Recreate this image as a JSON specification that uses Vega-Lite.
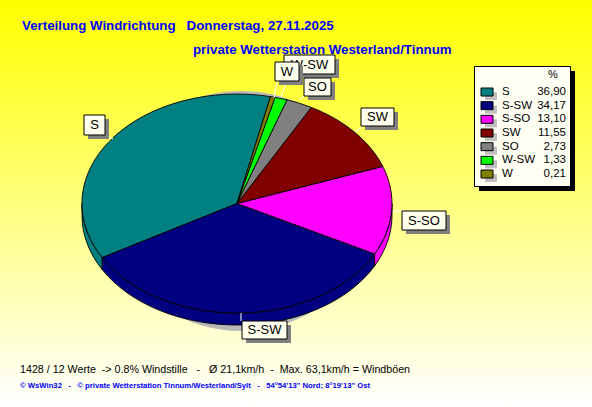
{
"$schema":"https://vega.github.io/schema/vega-lite/v6.json",
"width":592,"height":407,"padding":0,
"autosize":{"type":"fit","contains":"padding"},
"background":"#ffffff",
"view":{"stroke":null},
"config":{"text":{"font":"Liberation Sans"}},
"datasets":{"slices":[
{"direction":"S","pct":36.90,"pctLabel":"36,90"},
{"direction":"S-SW","pct":34.17,"pctLabel":"34,17"},
{"direction":"S-SO","pct":13.10,"pctLabel":"13,10"},
{"direction":"SW","pct":11.55,"pctLabel":"11,55"},
{"direction":"SO","pct":2.73,"pctLabel":"2,73"},
{"direction":"W-SW","pct":1.33,"pctLabel":"1,33"},
{"direction":"W","pct":0.21,"pctLabel":"0,21"}
]},
"data":{"name":"slices"},
"layer":[
{
"encoding":{
"x":{"datum":237,"type":"quantitative","scale":{"domain":[0,592],"nice":false,"zero":false},"axis":null},
"y":{"datum":203.5,"type":"quantitative","scale":{"domain":[407,0],"nice":false,"zero":false},"axis":null}
},
"resolve":{"scale":{"shape":"independent"}},
"layer":[
{"data":{"values":[{"a":1}]},
"mark":{"type":"rect","color":{"gradient":"linear","x1":0,"y1":0,"x2":0,"y2":1,"stops":[{"offset":0,"color":"#ffff00"},{"offset":1,"color":"#ffffff"}]}},
"encoding":{"x":{"datum":0,"type":"quantitative"},"x2":{"datum":592},"y":{"datum":0,"type":"quantitative"},"y2":{"datum":407}}},
{"data":{"values":[{"a":1}]},
"mark":{"type":"point","filled":true,"opacity":1,"size":4,"color":"#b8b8b8","shape":"M-126,7.5A130,120 0 1 1 134,7.5A130,120 0 1 1 -126,7.5Z"}},
{"transform":[{"filter":"datum.direction==='S'||datum.direction==='S-SW'||datum.direction==='S-SO'"}],
"mark":{"type":"point","filled":true,"opacity":1,"size":4,"stroke":"#000000","strokeWidth":0.9},
"encoding":{
"color":{"field":"direction","type":"nominal","legend":null,"scale":{"domain":["S","S-SW","S-SO","SW","SO","W-SW","W"],"range":["#008080","#000080","#ff00ff","#800000","#808080","#00ff00","#808000"]}},
"shape":{"field":"direction","type":"nominal","legend":null,"scale":{"domain":["S","S-SW","S-SO"],"range":[
"M-134.8,54.1A155,109.5 0 0 1 -155,0L-155,12A155,109.5 0 0 0 -134.8,66.1Z",
"M137.6,50.4A155,109.5 0 0 1 -134.8,54.1L-134.8,66.1A155,109.5 0 0 0 137.6,62.4Z",
"M155,0A155,109.5 0 0 1 137.6,50.4L137.6,62.4A155,109.5 0 0 0 155,12Z"]}}}},
{"mark":{"type":"point","filled":true,"opacity":1,"size":4,"stroke":"#000000","strokeWidth":0.9},
"encoding":{
"color":{"field":"direction","type":"nominal","legend":null,"scale":{"domain":["S","S-SW","S-SO","SW","SO","W-SW","W"],"range":["#008080","#000080","#ff00ff","#800000","#808080","#00ff00","#808000"]}},
"shape":{"field":"direction","type":"nominal","legend":null,"scale":{"domain":["S","S-SW","S-SO","SW","SO","W-SW","W"],"range":[
"M0,0L-134.8,54.1A155,109.5 0 0 1 33.5,-106.9Z",
"M0,0L137.6,50.4A155,109.5 0 0 1 -134.8,54.1Z",
"M0,0L145.8,-37.1A155,109.5 0 0 1 137.6,50.4Z",
"M0,0L74.3,-96.1A155,109.5 0 0 1 145.8,-37.1Z",
"M0,0L50,-103.7A155,109.5 0 0 1 74.3,-96.1Z",
"M0,0L38,-106.1A155,109.5 0 0 1 50,-103.7Z",
"M0,0L33.5,-106.9A155,109.5 0 0 1 38,-106.1Z"]}}}},
{"mark":{"type":"point","filled":false,"opacity":1,"size":4,"stroke":"#ffffff","strokeWidth":1},
"encoding":{"shape":{"field":"direction","type":"nominal","legend":null,"scale":{"domain":["S","S-SW","S-SO","SW","SO","W-SW","W"],"range":[
"M-129,-67.5L-124,-64.5","M4,109.5L4,117.5","M156,7.5L165,7.5","M118,-71.5L125,-76.5","M67,-107.5L63,-103.5","M50,-122.5L44,-106.5","M40,-121.5L37,-105.5"]}}}},
{"transform":[{"filter":"datum.direction!=='W'"}],
"mark":{"type":"point","filled":true,"opacity":1,"size":4,"color":"#808080","xOffset":4,"yOffset":4},
"encoding":{"shape":{"field":"direction","type":"nominal","legend":null,"scale":{"domain":["S","S-SW","S-SO","SW","SO","W-SW"],"range":[
"M-153,-88.5H-132V-68.5H-153Z","M5,117.5H50V135.5H5Z","M165,7.5H209V26.5H165Z","M124,-95.5H157V-77.5H124Z","M67,-125.5H94V-107.5H67Z","M47,-148.5H98V-129.5H47Z"]}}}},
{"transform":[{"filter":"datum.direction!=='W'"}],
"mark":{"type":"point","filled":true,"opacity":1,"size":4,"color":"#ffffee","stroke":"#000000","strokeWidth":1},
"encoding":{"shape":{"field":"direction","type":"nominal","legend":null,"scale":{"domain":["S","S-SW","S-SO","SW","SO","W-SW"],"range":[
"M-153,-88.5H-132V-68.5H-153Z","M5,117.5H50V135.5H5Z","M165,7.5H209V26.5H165Z","M124,-95.5H157V-77.5H124Z","M67,-125.5H94V-107.5H67Z","M47,-148.5H98V-129.5H47Z"]}}}},
{"transform":[{"filter":"datum.direction==='S'"}],"mark":{"type":"text","fontSize":13,"color":"#000000"},"encoding":{"text":{"field":"direction"},"x":{"datum":94.5,"type":"quantitative"},"y":{"datum":125,"type":"quantitative"}}},
{"transform":[{"filter":"datum.direction==='S-SW'"}],"mark":{"type":"text","fontSize":13,"color":"#000000"},"encoding":{"text":{"field":"direction"},"x":{"datum":264.5,"type":"quantitative"},"y":{"datum":330,"type":"quantitative"}}},
{"transform":[{"filter":"datum.direction==='S-SO'"}],"mark":{"type":"text","fontSize":13,"color":"#000000"},"encoding":{"text":{"field":"direction"},"x":{"datum":424,"type":"quantitative"},"y":{"datum":220.5,"type":"quantitative"}}},
{"transform":[{"filter":"datum.direction==='SW'"}],"mark":{"type":"text","fontSize":13,"color":"#000000"},"encoding":{"text":{"field":"direction"},"x":{"datum":377.5,"type":"quantitative"},"y":{"datum":117,"type":"quantitative"}}},
{"transform":[{"filter":"datum.direction==='SO'"}],"mark":{"type":"text","fontSize":13,"color":"#000000"},"encoding":{"text":{"field":"direction"},"x":{"datum":317.5,"type":"quantitative"},"y":{"datum":87,"type":"quantitative"}}},
{"transform":[{"filter":"datum.direction==='W-SW'"}],"mark":{"type":"text","fontSize":13,"color":"#000000"},"encoding":{"text":{"field":"direction"},"x":{"datum":309.5,"type":"quantitative"},"y":{"datum":64.5,"type":"quantitative"}}},
{"transform":[{"filter":"datum.direction==='W'"}],
"mark":{"type":"point","filled":true,"opacity":1,"size":4,"color":"#808080","xOffset":4,"yOffset":4,"shape":"M38,-141.5H62V-122.5H38Z"}},
{"transform":[{"filter":"datum.direction==='W'"}],
"mark":{"type":"point","filled":true,"opacity":1,"size":4,"color":"#ffffee","stroke":"#000000","strokeWidth":1,"shape":"M38,-141.5H62V-122.5H38Z"}},
{"transform":[{"filter":"datum.direction==='W'"}],"mark":{"type":"text","fontSize":13,"color":"#000000"},"encoding":{"text":{"field":"direction"},"x":{"datum":287,"type":"quantitative"},"y":{"datum":71.5,"type":"quantitative"}}},
{"data":{"values":[{"a":1}]},"mark":{"type":"rect","color":"#000000"},"encoding":{"x":{"datum":479,"type":"quantitative"},"x2":{"datum":575},"y":{"datum":71,"type":"quantitative"},"y2":{"datum":191}}},
{"data":{"values":[{"a":1}]},"mark":{"type":"rect","color":"#fffff4","stroke":"#000000","strokeWidth":1},"encoding":{"x":{"datum":474.5,"type":"quantitative"},"x2":{"datum":570.5},"y":{"datum":66.5,"type":"quantitative"},"y2":{"datum":186.5}}},
{"data":{"values":[{"t":"%"}]},"mark":{"type":"text","fontSize":11,"color":"#000000"},"encoding":{"text":{"field":"t"},"x":{"datum":553,"type":"quantitative"},"y":{"datum":75,"type":"quantitative"}}},
{"data":{"values":[{"t":"Verteilung Windrichtung\u00a0\u00a0\u00a0Donnerstag, 27.11.2025"}]},"mark":{"type":"text","fontSize":13.3,"fontWeight":"bold","color":"#0000ff","align":"left"},"encoding":{"text":{"field":"t"},"x":{"datum":22,"type":"quantitative"},"y":{"datum":25.5,"type":"quantitative"}}},
{"data":{"values":[{"t":"private Wetterstation Westerland/Tinnum"}]},"mark":{"type":"text","fontSize":13.3,"fontWeight":"bold","color":"#0000ff","align":"left"},"encoding":{"text":{"field":"t"},"x":{"datum":193,"type":"quantitative"},"y":{"datum":49.5,"type":"quantitative"}}},
{"data":{"values":[{"t":"1428 / 12 Werte\u00a0\u00a0-> 0.8% Windstille\u00a0\u00a0\u00a0-\u00a0\u00a0\u00a0Ø 21,1km/h\u00a0\u00a0-\u00a0\u00a0Max. 63,1km/h = Windböen"}]},"mark":{"type":"text","fontSize":10.7,"color":"#000000","align":"left"},"encoding":{"text":{"field":"t"},"x":{"datum":20,"type":"quantitative"},"y":{"datum":369.5,"type":"quantitative"}}},
{"data":{"values":[{"t":"© WsWin32\u00a0\u00a0\u00a0-\u00a0\u00a0\u00a0© private Wetterstation Tinnum/Westerland/Sylt\u00a0\u00a0\u00a0-\u00a0\u00a0\u00a054°54'13'' Nord; 8°19'13'' Ost"}]},"mark":{"type":"text","fontSize":7.7,"fontWeight":"bold","color":"#0000ff","align":"left"},"encoding":{"text":{"field":"t"},"x":{"datum":20,"type":"quantitative"},"y":{"datum":386,"type":"quantitative"}}}
]
},
{
"encoding":{
"y":{"field":"direction","type":"nominal","sort":null,"axis":null,"scale":{"type":"point","domain":["S","S-SW","S-SO","SW","SO","W-SW","W"],"range":[92,174],"padding":0}},
"x":{"datum":487,"type":"quantitative","axis":null,"scale":{"domain":[0,592],"nice":false,"zero":false}}
},
"layer":[
{"mark":{"type":"point","filled":true,"opacity":1,"size":4,"color":"#c0c0c0","xOffset":4,"yOffset":4,"shape":"M-6,-4H6V4H-6Z"}},
{"mark":{"type":"point","filled":true,"opacity":1,"size":4,"stroke":"#000000","strokeWidth":1,"shape":"M-6,-4H6V4H-6Z"},
"encoding":{"color":{"field":"direction","type":"nominal","legend":null,"scale":{"domain":["S","S-SW","S-SO","SW","SO","W-SW","W"],"range":["#008080","#000080","#ff00ff","#800000","#808080","#00ff00","#808000"]}}}},
{"mark":{"type":"text","fontSize":11.5,"color":"#000000","align":"left"},"encoding":{"text":{"field":"direction"},"x":{"datum":502,"type":"quantitative"}}},
{"mark":{"type":"text","fontSize":11.5,"color":"#000000","align":"right"},"encoding":{"text":{"field":"pctLabel"},"x":{"datum":566,"type":"quantitative"}}}
]
}
],
"resolve":{"scale":{"x":"independent","y":"independent","shape":"independent","color":"independent"}}
}
